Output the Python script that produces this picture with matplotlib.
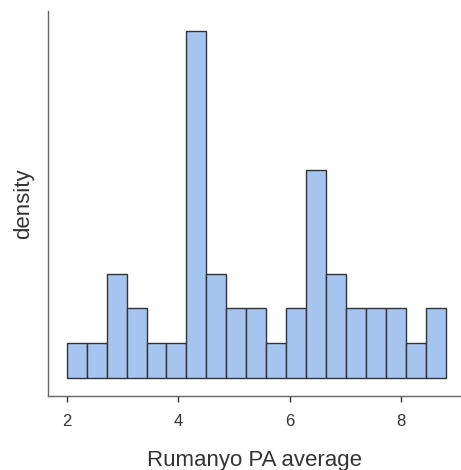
import numpy as np
import matplotlib.pyplot as plt

plt.rcParams['font.family'] = ['Liberation Sans', 'DejaVu Sans']

# histogram of Rumanyo PA average: 19 bins from 2.0 to 8.8
bin_edges = np.linspace(2.0, 8.8, 20)
counts = [1, 1, 3, 2, 1, 1, 10, 3, 2, 2, 1, 2, 6, 3, 2, 2, 2, 1, 2]

n = sum(counts)
width = bin_edges[1] - bin_edges[0]
scale = 1.0 / (n * width)

fig = plt.figure(figsize=(4.61, 4.70), dpi=100)
ax = fig.add_axes([48 / 461, 1 - 395.7 / 470, 1 - 48 / 461, (395.7 - 10.7) / 470])

ax.hist(bin_edges[:-1], bins=bin_edges, weights=counts, density=True,
        color='#a6c4f0', edgecolor='#333333', linewidth=1.0)

ax.set_xlim(1.665, 9.07)
ax.set_ylim(-0.52 * scale, 10.58 * scale)
ax.set_xticks([2, 4, 6, 8])
ax.set_yticks([])

for side in ['top', 'right']:
    ax.spines[side].set_visible(False)
for side in ['left', 'bottom']:
    ax.spines[side].set_color('#666666')
    ax.spines[side].set_linewidth(1.0)

ax.tick_params(axis='x', length=4, width=1, color='#333333',
               labelsize=12, labelcolor='#333333', pad=9)
ax.set_xlabel('Rumanyo PA average', fontsize=16, color='#333333', labelpad=15)
ax.set_ylabel('density', fontsize=16, color='#333333', labelpad=10)

fig.savefig('out.png', dpi=100)
